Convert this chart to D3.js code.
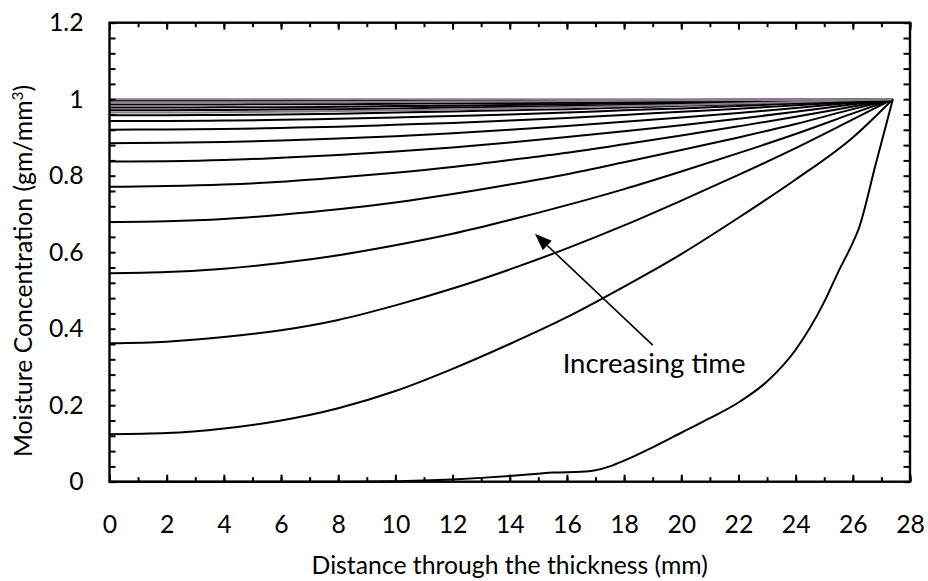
<!DOCTYPE html>
<html>
<head>
<meta charset="utf-8">
<script src="https://cdn.jsdelivr.net/npm/d3@7"></script>
<style>
  body { margin: 0; background: #fff; }
  svg { display: block; font-family: Lato, "Noto Sans", sans-serif; }
</style>
</head>
<body>
<svg id="chart" width="928" height="581"></svg>
<script>
// distance through thickness (mm) shared by the later-time profiles
const distance = [0, 2, 4, 6, 8, 10, 12, 14, 16, 18, 20, 22, 24, 26, 27.4];

// moisture profiles, late time first
const p01 = [1.000, 1.000, 1.000, 1.000, 1.000, 1.000, 1.000, 1.000, 1.000, 1.000, 1.000, 1.000, 1.000, 1.000, 1];
const p02 = [0.996, 0.996, 0.996, 0.996, 0.996, 0.997, 0.997, 0.997, 0.998, 0.998, 0.998, 0.999, 0.999, 1.000, 1];
const p03 = [0.992, 0.992, 0.992, 0.992, 0.993, 0.993, 0.994, 0.994, 0.995, 0.996, 0.997, 0.998, 0.998, 0.999, 1];
const p04 = [0.986, 0.986, 0.986, 0.987, 0.987, 0.988, 0.989, 0.990, 0.991, 0.993, 0.994, 0.996, 0.997, 0.999, 1];
const p05 = [0.978, 0.978, 0.979, 0.979, 0.980, 0.982, 0.983, 0.985, 0.987, 0.989, 0.991, 0.993, 0.996, 0.998, 1];
const p06 = [0.971, 0.971, 0.972, 0.973, 0.974, 0.976, 0.978, 0.980, 0.982, 0.985, 0.988, 0.991, 0.994, 0.998, 1];
const p07 = [0.965, 0.965, 0.966, 0.967, 0.969, 0.971, 0.973, 0.976, 0.979, 0.982, 0.985, 0.989, 0.993, 0.997, 1];
const p08 = [0.958, 0.958, 0.959, 0.960, 0.962, 0.965, 0.968, 0.971, 0.974, 0.978, 0.983, 0.987, 0.992, 0.997, 1];
const p09 = [0.943, 0.943, 0.944, 0.946, 0.949, 0.952, 0.956, 0.960, 0.965, 0.971, 0.976, 0.982, 0.989, 0.995, 1];
const p10 = [0.920, 0.921, 0.922, 0.925, 0.928, 0.933, 0.938, 0.944, 0.951, 0.959, 0.967, 0.975, 0.984, 0.993, 1];
const p11 = [0.885, 0.886, 0.888, 0.892, 0.897, 0.903, 0.911, 0.920, 0.930, 0.941, 0.952, 0.964, 0.977, 0.991, 1];
const p12 = [0.837, 0.838, 0.841, 0.847, 0.854, 0.863, 0.874, 0.887, 0.901, 0.916, 0.932, 0.949, 0.967, 0.987, 1];
const p13 = [0.771, 0.773, 0.777, 0.784, 0.795, 0.808, 0.823, 0.841, 0.860, 0.882, 0.905, 0.929, 0.954, 0.981, 1];
const p14 = [0.679, 0.681, 0.687, 0.698, 0.712, 0.730, 0.752, 0.777, 0.804, 0.835, 0.867, 0.900, 0.935, 0.974, 1];
const p15 = [0.545, 0.548, 0.557, 0.572, 0.592, 0.618, 0.648, 0.684, 0.723, 0.765, 0.811, 0.859, 0.909, 0.963, 1];
const p16 = [0.362, 0.366, 0.378, 0.396, 0.423, 0.461, 0.505, 0.555, 0.610, 0.670, 0.735, 0.802, 0.872, 0.947, 1];
const p17 = [0.124, 0.127, 0.139, 0.160, 0.192, 0.237, 0.295, 0.360, 0.430, 0.510, 0.595, 0.690, 0.790, 0.900, 1];

// earliest profile, own x sampling
const earlyDistance = [0, 4, 8, 10, 11, 12, 13, 14, 15, 15.5, 16.5, 17, 17.5, 18, 19, 20, 21, 22, 23, 24, 25, 25.5, 26, 26.2, 26.8, 27.4];
const earlyMoisture = [0, 0, 0, 0.001, 0.003, 0.006, 0.010, 0.015, 0.021, 0.024, 0.026, 0.030, 0.040, 0.055, 0.090, 0.128, 0.166, 0.207, 0.262, 0.345, 0.470, 0.550, 0.625, 0.660, 0.830, 1.0];

const laterProfiles = [p01, p02, p03, p04, p05, p06, p07, p08, p09, p10, p11, p12, p13, p14, p15, p16, p17];

const xTicks = [0, 2, 4, 6, 8, 10, 12, 14, 16, 18, 20, 22, 24, 26, 28];
const yTicks = [0, 0.2, 0.4, 0.6, 0.8, 1, 1.2];

const xTitle = 'Distance through the thickness (mm)';
const annotationText = 'Increasing time';

// ---- layout
const svg = d3.select('#chart');
const margin = { left: 109.5, right: 18, top: 22.7, bottom: 99.3 };
const width = +svg.attr('width');
const height = +svg.attr('height');

const x = d3.scaleLinear().domain([0, 28]).range([margin.left, width - margin.right]);
const y = d3.scaleLinear().domain([0, 1.2]).range([height - margin.bottom, margin.top]);

// the top-most few profiles come out a grey-purple in the original
const lineColor = i => (i === 0 || i === 2 || i === 6) ? '#8c7e8e' : '#000';

const line = d3.line()
  .x(d => x(d[0]))
  .y(d => y(d[1]))
  .curve(d3.curveMonotoneX);

const plot = svg.append('g');

// draw black lines first so the coloured ones sit on top like the picture
const order = d3.range(laterProfiles.length).sort((a, b) => (lineColor(a) === '#000' ? 0 : 1) - (lineColor(b) === '#000' ? 0 : 1));
plot.selectAll('path.profile')
  .data(order)
  .join('path')
  .attr('class', 'profile')
  .attr('fill', 'none')
  .attr('stroke', i => lineColor(i))
  .attr('stroke-width', 2)
  .attr('d', i => line(distance.map((d, k) => [d, laterProfiles[i][k]])));

plot.append('path')
  .attr('fill', 'none')
  .attr('stroke', '#000')
  .attr('stroke-width', 2)
  .attr('d', line(earlyDistance.map((d, k) => [d, earlyMoisture[k]])));

// ---- axes (ticks inward on every side)
const fontSize = 24.75;
const xMinor = d3.range(0, 29, 1);
const yMinor = d3.range(0, 1.2001, 0.04);

const axBottom = svg.append('g').attr('transform', `translate(0,${y(0)})`)
  .call(d3.axisBottom(x).tickValues(xMinor).tickSize(-4.5).tickFormat(''));
const axBottomMajor = svg.append('g').attr('transform', `translate(0,${y(0)})`)
  .call(d3.axisBottom(x).tickValues(xTicks).tickSize(-7).tickPadding(27).tickFormat(d3.format('d')));
const axTop = svg.append('g').attr('transform', `translate(0,${y(1.2)})`)
  .call(d3.axisTop(x).tickValues(xMinor).tickSize(-4.5).tickFormat(''));
const axTopMajor = svg.append('g').attr('transform', `translate(0,${y(1.2)})`)
  .call(d3.axisTop(x).tickValues(xTicks).tickSize(-7).tickFormat(''));
const axLeft = svg.append('g').attr('transform', `translate(${x(0)},0)`)
  .call(d3.axisLeft(y).tickValues(yMinor).tickSize(-6).tickFormat(''));
const axLeftLabels = svg.append('g').attr('transform', `translate(${x(0)},0)`)
  .call(d3.axisLeft(y).tickValues(yTicks).tickSize(0).tickPadding(26).tickFormat(d => d3.format('.1~f')(d)));
const axRight = svg.append('g').attr('transform', `translate(${x(28)},0)`)
  .call(d3.axisRight(y).tickValues(yMinor).tickSize(-6.5).tickFormat(''));

[axBottom, axBottomMajor, axTop, axTopMajor, axLeft, axLeftLabels, axRight].forEach(g => {
  g.select('.domain').remove();
  g.selectAll('.tick line').attr('stroke', '#000').attr('stroke-width', 2);
  g.selectAll('.tick text').attr('fill', '#000').attr('font-size', fontSize).attr('font-family', 'Lato, "Noto Sans", sans-serif');
});
axBottomMajor.selectAll('.tick text').attr('dy', '0.32em').attr('y', 43);

// frame
svg.append('rect')
  .attr('x', x(0)).attr('y', y(1.2))
  .attr('width', x(28) - x(0)).attr('height', y(0) - y(1.2))
  .attr('fill', 'none').attr('stroke', '#000').attr('stroke-width', 2.4);

// ---- titles
svg.append('text')
  .attr('x', (x(0) + x(28)) / 2)
  .attr('y', 574)
  .attr('text-anchor', 'middle')
  .attr('font-size', fontSize)
  .text(xTitle);

const yTitle = svg.append('text')
  .attr('transform', `translate(32,271) rotate(-90)`)
  .attr('text-anchor', 'middle')
  .attr('font-size', fontSize);
yTitle.append('tspan').text('Moisture Concentration (gm/mm');
yTitle.append('tspan').attr('dy', -9).attr('font-size', 15.5).text('3');
yTitle.append('tspan').attr('dy', 9).text(')');

// ---- annotation arrow
const tip = [14.88, 0.648];
const tail = [19.0, 0.357];
const ax0 = x(tail[0]), ay0 = y(tail[1]), ax1 = x(tip[0]), ay1 = y(tip[1]);
const ang = Math.atan2(ay1 - ay0, ax1 - ax0);
const headLen = 17, headHalf = 6.5;
const bx = ax1 - headLen * Math.cos(ang), by = ay1 - headLen * Math.sin(ang);
svg.append('line')
  .attr('x1', ax0).attr('y1', ay0).attr('x2', bx).attr('y2', by)
  .attr('stroke', '#000').attr('stroke-width', 1.6);
svg.append('path')
  .attr('d', d3.line()([
    [ax1, ay1],
    [bx + headHalf * Math.sin(ang), by - headHalf * Math.cos(ang)],
    [bx - headHalf * Math.sin(ang), by + headHalf * Math.cos(ang)]
  ]) + 'Z')
  .attr('fill', '#000');

svg.append('text')
  .attr('x', x(15.85))
  .attr('y', y(0.285))
  .attr('font-size', 27.5)
  .text(annotationText);
</script>
</body>
</html>
